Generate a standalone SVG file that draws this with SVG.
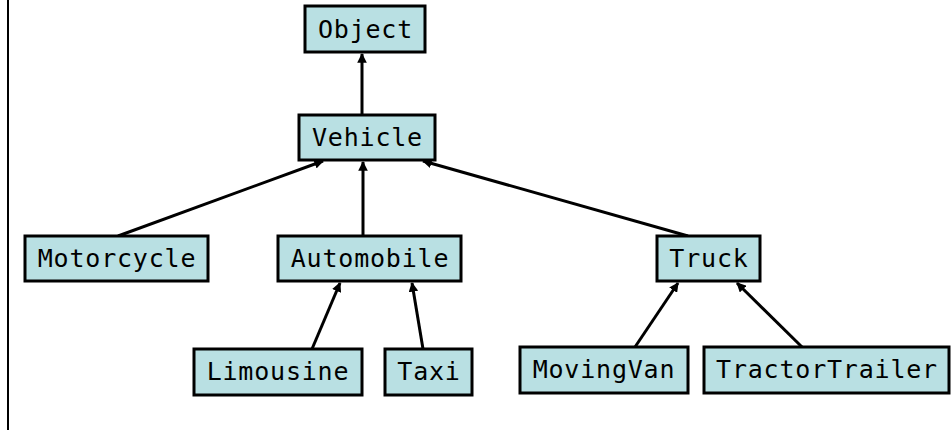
<svg xmlns="http://www.w3.org/2000/svg" width="951" height="430" viewBox="0 0 951 430">
<style>
.box{fill:#b9e0e3;stroke:#000;stroke-width:3}
.lbl{font-family:"DejaVu Sans Mono","Liberation Mono",monospace;font-size:25px;letter-spacing:0.8px;text-anchor:middle;fill:#000}
.edge{stroke:#000;stroke-width:3;fill:none;marker-end:url(#ah)}
</style>
<defs>
<marker id="ah" viewBox="0 0 10 10" refX="9" refY="5" markerWidth="3.2" markerHeight="3.2" orient="auto" markerUnits="strokeWidth">
<path d="M0,0 L10,5 L0,10 z" fill="#000"/>
</marker>
</defs>
<rect width="951" height="430" fill="#fff"/>
<line x1="8" y1="0" x2="8" y2="430" stroke="#000" stroke-width="2"/>
<g id="connectors">
<line class="edge" x1="362" y1="115" x2="362" y2="54"/>
<line class="edge" x1="118" y1="236" x2="323" y2="161"/>
<line class="edge" x1="363" y1="236" x2="363" y2="162"/>
<line class="edge" x1="688" y1="236" x2="423" y2="161"/>
<line class="edge" x1="312" y1="349" x2="340" y2="283"/>
<line class="edge" x1="423" y1="349" x2="412" y2="283"/>
<line class="edge" x1="635" y1="347" x2="678" y2="283"/>
<line class="edge" x1="802" y1="347" x2="737" y2="283"/>
</g>
<g id="Object"><rect class="box" x="305" y="6" width="120" height="46"/><text class="lbl" x="365.5" y="37.5">Object</text></g>
<g id="Vehicle"><rect class="box" x="299" y="115" width="136" height="45"/><text class="lbl" x="367.5" y="146">Vehicle</text></g>
<g id="Motorcycle"><rect class="box" x="25" y="236" width="183" height="45"/><text class="lbl" x="117" y="267">Motorcycle</text></g>
<g id="Automobile"><rect class="box" x="278" y="236" width="183" height="45"/><text class="lbl" x="370" y="267">Automobile</text></g>
<g id="Truck"><rect class="box" x="657" y="236" width="103" height="45"/><text class="lbl" x="709" y="267">Truck</text></g>
<g id="Limousine"><rect class="box" x="194" y="349" width="168" height="46"/><text class="lbl" x="278" y="380">Limousine</text></g>
<g id="Taxi"><rect class="box" x="385" y="349" width="87" height="46"/><text class="lbl" x="429" y="380">Taxi</text></g>
<g id="MovingVan"><rect class="box" x="520" y="347" width="168" height="46"/><text class="lbl" x="604" y="378">MovingVan</text></g>
<g id="TractorTrailer"><rect class="box" x="704" y="347" width="245" height="46"/><text class="lbl" x="827" y="378">TractorTrailer</text></g>
</svg>
